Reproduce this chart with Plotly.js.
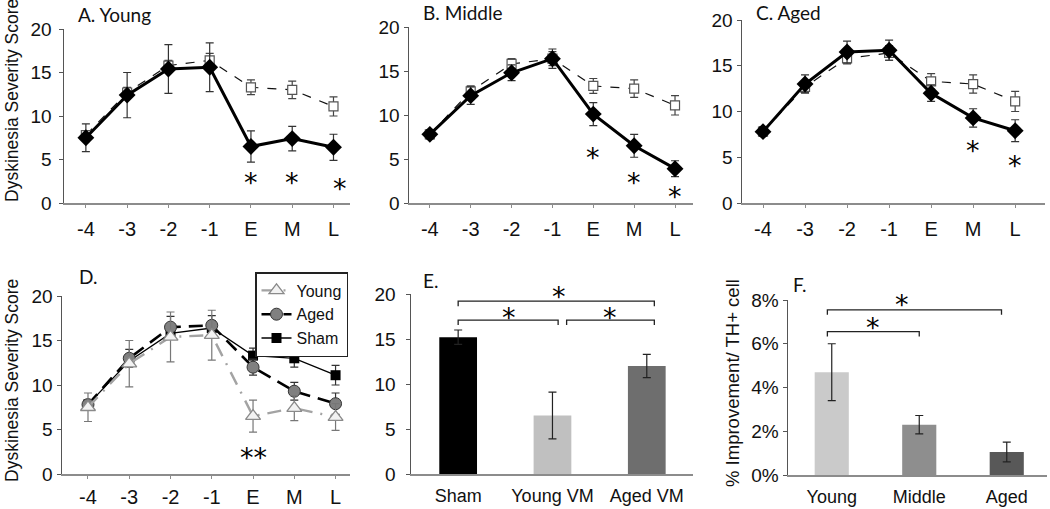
<!DOCTYPE html>
<html><head><meta charset="utf-8">
<script src="https://cdn.plot.ly/plotly-3.0.1.min.js"></script>
<style>body{margin:0;background:#fff}#chart{width:1050px;height:509px}</style>
</head><body><div id="chart"></div><script>
// ---------- data ----------
const timeCats = ['-4','-3','-2','-1','E','M','L'];
const shamMean = [7.8, 12.7, 15.8, 16.4, 13.3, 13.0, 11.1];
const shamErr  = [0.5, 0.6, 0.6, 0.8, 0.85, 1.0, 1.1];
const youngMean = [7.5, 12.4, 15.4, 15.6, 6.5, 7.4, 6.4];
const youngErr  = [1.6, 2.6, 2.8, 2.8, 1.8, 1.4, 1.5];
const middleMean = [7.8, 12.2, 14.8, 16.4, 10.1, 6.5, 3.9];
const middleErr  = [0.5, 1.0, 0.9, 1.1, 1.3, 1.3, 0.9];
const agedMean = [7.8, 13.0, 16.5, 16.7, 12.0, 9.3, 7.9];
const agedErr  = [0.5, 1.0, 1.2, 1.1, 0.9, 1.0, 1.2];

const starsA = {x: [4, 5, 6.15], y: [3.1, 3.0, 2.4]};
const starsB = {x: [4, 5, 6], y: [5.9, 3.0, 1.4]};
const starsC = {x: [5, 6], y: [6.4, 4.7]};
const starsD = {x: [4], y: [2.5], text: ['**']};

const eCats = ['Sham', 'Young VM', 'Aged VM'];
const eMean = [15.2, 6.5, 12.0];
const eErr  = [0.8, 2.6, 1.3];
const eBrackets = [{a: 0, b: 2.08, y: 19.2}, {a: 0, b: 1.06, y: 17.1}, {a: 1.15, b: 2.08, y: 17.1}];
const eStars = {x: [1.07, 0.54, 1.61], y: [20.4, 18.1, 18.1]};

const fCats = ['Young', 'Middle', 'Aged'];
const fMean = [4.7, 2.3, 1.05];
const fErr  = [1.3, 0.42, 0.45];
const fTickVals = [0, 2, 4, 6, 8];
const fTickText = ['0%', '2%', '4%', '6%', '8%'];
const fBrackets = [{a: -0.05, b: 1.94, y: 7.55}, {a: -0.05, b: 1.0, y: 6.55}];
const fStars = {x: [0.80, 0.47], y: [8.05, 7.0]};

// ---------- helpers ----------
const idx = timeCats.map((_, i) => i);
const TF = 'Liberation Sans';
const errStyle = (arr, c) => ({type: 'data', array: arr, visible: true, color: c || '#333', thickness: 1.2, width: 4});

function shamTrace(xa, ya) {
  return {x: idx, y: shamMean, xaxis: xa, yaxis: ya, type: 'scatter', mode: 'lines+markers',
    line: {color: '#111', width: 1.2, dash: 'dash'},
    marker: {symbol: 'square', size: 9, color: '#fff', line: {color: '#555', width: 1.2}},
    error_y: errStyle(shamErr, '#444'), showlegend: false, hoverinfo: 'skip'};
}
function groupTrace(xa, ya, m, e) {
  return {x: idx, y: m, xaxis: xa, yaxis: ya, type: 'scatter', mode: 'lines+markers',
    line: {color: '#000', width: 3},
    marker: {symbol: 'diamond', size: 13, color: '#000'},
    error_y: errStyle(e, '#333'), showlegend: false, hoverinfo: 'skip'};
}

const traces = [
  shamTrace('x', 'y'), groupTrace('x', 'y', youngMean, youngErr),
  shamTrace('x2', 'y2'), groupTrace('x2', 'y2', middleMean, middleErr),
  shamTrace('x3', 'y3'), groupTrace('x3', 'y3', agedMean, agedErr),
  // D
  {x: idx, y: shamMean, xaxis: 'x4', yaxis: 'y4', type: 'scatter', mode: 'lines+markers', name: 'Sham',
    line: {color: '#000', width: 1.3}, marker: {symbol: 'square', size: 10, color: '#000'},
    error_y: errStyle(shamErr, '#333'), hoverinfo: 'skip'},
  {x: idx, y: agedMean, xaxis: 'x4', yaxis: 'y4', type: 'scatter', mode: 'lines+markers', name: 'Aged',
    line: {color: '#000', width: 2.6, dash: '14px,8px'}, marker: {symbol: 'circle', size: 12, color: '#808080', line: {color: '#333', width: 1}},
    error_y: errStyle(agedErr, '#333'), hoverinfo: 'skip'},
  {x: idx, y: youngMean, xaxis: 'x4', yaxis: 'y4', type: 'scatter', mode: 'lines+markers', name: 'Young',
    line: {color: '#a3a3a3', width: 2.4, dash: '14px,8px,2px,8px'}, marker: {symbol: 'triangle-up', size: 13, color: '#f2f2f2', line: {color: '#8a8a8a', width: 1.3}},
    error_y: errStyle(youngErr, '#777'), hoverinfo: 'skip'},
  // E
  {x: [0, 1, 2], y: eMean, xaxis: 'x5', yaxis: 'y5', type: 'bar', width: 0.4,
    marker: {color: ['#000000', '#c0c0c0', '#6e6e6e']}, error_y: errStyle(eErr, '#222'), showlegend: false, hoverinfo: 'skip'},
  // F
  {x: [0, 1, 2], y: fMean, xaxis: 'x6', yaxis: 'y6', type: 'bar', width: 0.39,
    marker: {color: ['#cacaca', '#8e8e8e', '#585858']}, error_y: errStyle(fErr, '#222'), showlegend: false, hoverinfo: 'skip'}
];

// ---------- axes ----------
const W = 1050, H = 509;
const px = (a, b) => [a / W, b / W];
const py = (top, bottom) => [1 - bottom / H, 1 - top / H];

function xAx(dom, rng, ya, vals, txt, standoff) {
  return {domain: dom, range: rng, anchor: ya, tickvals: vals, ticktext: txt, showgrid: false, zeroline: false,
    showline: true, linecolor: '#8c8c8c', linewidth: 1.5, ticks: 'outside', ticklen: 3, tickcolor: '#8c8c8c',
    tickfont: {family: TF, size: 20, color: '#111'}, ticklabelstandoff: standoff, fixedrange: true};
}
function yAx(dom, rng, xa, vals, txt, standoff) {
  return {domain: dom, range: rng, anchor: xa, tickvals: vals, ticktext: txt, showgrid: false, zeroline: false,
    showline: true, linecolor: '#555', linewidth: 1.5, ticks: 'outside', ticklen: 4, tickcolor: '#555',
    tickfont: {family: TF, size: 19, color: '#111'}, ticklabelstandoff: standoff, fixedrange: true};
}
const yv = [0, 5, 10, 15, 20];
const yt = yv.map(String);

const layout = {
  width: W, height: H, margin: {l: 0, r: 0, t: 0, b: 0}, paper_bgcolor: '#fff', plot_bgcolor: 'rgba(0,0,0,0)',
  showlegend: true,
  legend: {x: 255 / W, y: 1 - 272 / H, xanchor: 'left', yanchor: 'top', bordercolor: '#222', borderwidth: 1.5,
    bgcolor: '#fff', font: {family: TF, size: 16, color: '#111'}, traceorder: 'reversed', tracegroupgap: 0, itemwidth: 30},
  xaxis:  xAx(px(64, 350), [-0.53, 6.4], 'y', idx, timeCats, 4),
  yaxis:  yAx(py(29, 203), [0, 20], 'x', yv, yt, 3),
  xaxis2: xAx(px(409, 693), [-0.51, 6.44], 'y2', idx, timeCats, 4),
  yaxis2: yAx(py(27, 203), [0, 20], 'x2', yv, yt, 0),
  xaxis3: xAx(px(742, 1045), [-0.5, 6.71], 'y3', idx, timeCats, 4),
  yaxis3: yAx(py(20, 203), [0, 20], 'x3', yv, yt, 0),
  xaxis4: xAx(px(62, 350), [-0.63, 6.35], 'y4', idx, timeCats, 1),
  yaxis4: yAx(py(296, 474), [0, 20], 'x4', yv, yt, 0),
  xaxis5: xAx(px(411, 693), [-0.5, 2.49], 'y5', [0, 1, 2], eCats, 5),
  yaxis5: yAx(py(294, 474), [0, 20], 'x5', yv, yt, 6),
  xaxis6: xAx(px(788, 1047), [-0.5, 2.46], 'y6', [0, 1, 2], fCats, 5),
  yaxis6: yAx(py(300, 475), [0, 8], 'x6', fTickVals, fTickText, 0),
  annotations: [], shapes: []
};
layout.xaxis5.ticks = ''; layout.xaxis6.ticks = '';
layout.xaxis5.tickfont.size = 18; layout.xaxis6.tickfont.size = 18;

// panel labels
const LF = {family: 'Lato', size: 19, color: '#111'};
[['A. Young', 76, 15], ['B. Middle', 421, 12], ['C. Aged', 754, 12], ['D.', 77, 276], ['E.', 421, 280], ['F.', 791, 284]].forEach(p => {
  layout.annotations.push({text: p[0], xref: 'paper', yref: 'paper', x: p[1] / W, y: 1 - p[2] / H, xanchor: 'left', yanchor: 'middle', showarrow: false, font: LF});
});
// y titles
[['Dyskinesia Severity Score', 12, 101, 17.5], ['Dyskinesia Severity Score', 12, 381, 17.5], ['% Improvement/ TH+ cell', 732, 383, 18.5]].forEach(t => {
  layout.annotations.push({text: t[0], xref: 'paper', yref: 'paper', x: t[1] / W, y: 1 - t[2] / H, xanchor: 'center', yanchor: 'middle', textangle: -90, showarrow: false, font: {family: TF, size: t[3], color: '#111'}});
});
// stars (y placed via the axis domain so stars above the top of the range still show)
function addStars(s, xa, ya, yMax) {
  s.x.forEach((xv, i) => layout.annotations.push({text: s.text ? s.text[i] : '*', x: xv, y: s.y[i] / yMax, xref: xa, yref: ya + ' domain', showarrow: false, xanchor: 'center', yanchor: 'middle', yshift: -6, font: {family: 'DejaVu Sans', size: 27, color: '#000'}}));
}
addStars(starsA, 'x', 'y', 20); addStars(starsB, 'x2', 'y2', 20); addStars(starsC, 'x3', 'y3', 20); addStars(starsD, 'x4', 'y4', 20);
addStars(eStars, 'x5', 'y5', 20); addStars(fStars, 'x6', 'y6', 8);
// brackets
function addBrackets(list, xa, ya, drop) {
  list.forEach(b => layout.shapes.push({type: 'path', xref: xa, yref: ya,
    path: `M ${b.a},${b.y - drop} L ${b.a},${b.y} L ${b.b},${b.y} L ${b.b},${b.y - drop}`,
    line: {color: '#222', width: 1.3}}));
}
addBrackets(eBrackets, 'x5', 'y5', 0.55);
addBrackets(fBrackets, 'x6', 'y6', 0.22);

Plotly.newPlot('chart', traces, layout, {staticPlot: true, displayModeBar: false});
</script></body></html>
